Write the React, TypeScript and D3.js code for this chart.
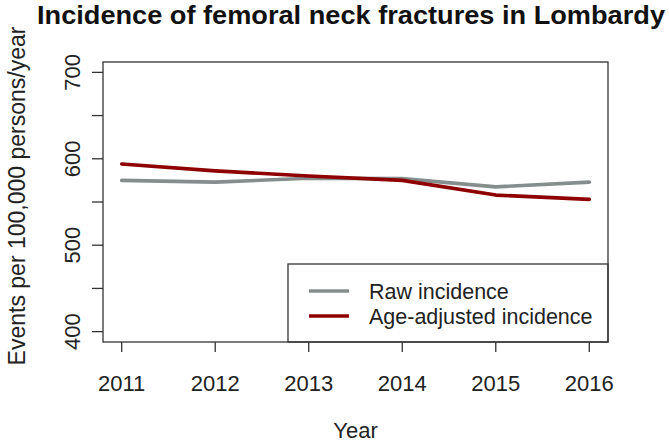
import * as d3 from 'd3';
import React from 'react';

const years = [2011, 2012, 2013, 2014, 2015, 2016];
const rawIncidence = [575, 573, 577.5, 577, 567.5, 573];
const adjIncidence = [594, 586, 580, 575, 558, 553];
const yTicks = [400, 450, 500, 550, 600, 650, 700];
const yLabels = [400, 500, 600, 700];

const W = 669;
const H = 443;
const box = { left: 103, right: 608, top: 62, bottom: 342 };
const font = '"Liberation Sans", Arial, sans-serif';

export default function App() {
  const x = d3.scaleLinear().domain([2010.8, 2016.2]).range([box.left, box.right]);
  const y = d3.scaleLinear().domain([388, 712]).range([box.bottom, box.top]);

  const line = d3
    .line<number>()
    .x((_, i) => x(years[i]))
    .y((d) => y(d));

  const series = [
    { name: 'Raw incidence', values: rawIncidence, color: '#858d8d' },
    { name: 'Age-adjusted incidence', values: adjIncidence, color: '#8f0000' },
  ];

  const legend = { left: 288, top: 264, right: box.right, bottom: box.bottom };

  return (
    <svg width={W} height={H} style={{ position: 'absolute', left: 0, top: 0, background: '#fff' }} fontFamily={font}>
      <text x={351} y={24} textAnchor="middle" fontWeight="bold" fontSize={25} fill="#111" textLength={628} lengthAdjust="spacingAndGlyphs">
        Incidence of femoral neck fractures in Lombardy
      </text>

      {series.map((s) => (
        <path key={s.name} d={line(s.values) ?? ''} fill="none" stroke={s.color} strokeWidth={3.6} strokeLinecap="round" strokeLinejoin="round" />
      ))}

      {/* legend */}
      <rect x={legend.left} y={legend.top} width={legend.right - legend.left} height={legend.bottom - legend.top} fill="#fff" stroke="#333" strokeWidth={1.3} />
      {series.map((s, i) => (
        <g key={s.name} transform={`translate(0,${291 + i * 25})`}>
          <line x1={309} x2={349} stroke={s.color} strokeWidth={3.6} />
          <text x={369} y={8} fontSize={21.5} fill="#222">
            {s.name}
          </text>
        </g>
      ))}

      <rect x={box.left} y={box.top} width={box.right - box.left} height={box.bottom - box.top} fill="none" stroke="#333" strokeWidth={1.3} />

      {/* y axis */}
      {yTicks.map((t) => (
        <line key={t} x1={92} x2={box.left} y1={y(t)} y2={y(t)} stroke="#333" strokeWidth={1.3} />
      ))}
      {yLabels.map((t) => (
        <text key={t} transform={`translate(80,${y(t)}) rotate(-90)`} textAnchor="middle" fontSize={22} fill="#222">
          {t}
        </text>
      ))}
      <text transform={`translate(25,196) rotate(-90)`} textAnchor="middle" fontSize={23} fill="#222">
        Events per 100,000 persons/year
      </text>

      {/* x axis */}
      {years.map((t) => (
        <g key={t}>
          <line x1={x(t)} x2={x(t)} y1={box.bottom} y2={box.bottom + 10} stroke="#333" strokeWidth={1.3} />
          <text x={x(t)} y={391} textAnchor="middle" fontSize={22} fill="#222">
            {t}
          </text>
        </g>
      ))}
      <text x={(box.left + box.right) / 2} y={438} textAnchor="middle" fontSize={22} fill="#222">
        Year
      </text>
    </svg>
  );
}
